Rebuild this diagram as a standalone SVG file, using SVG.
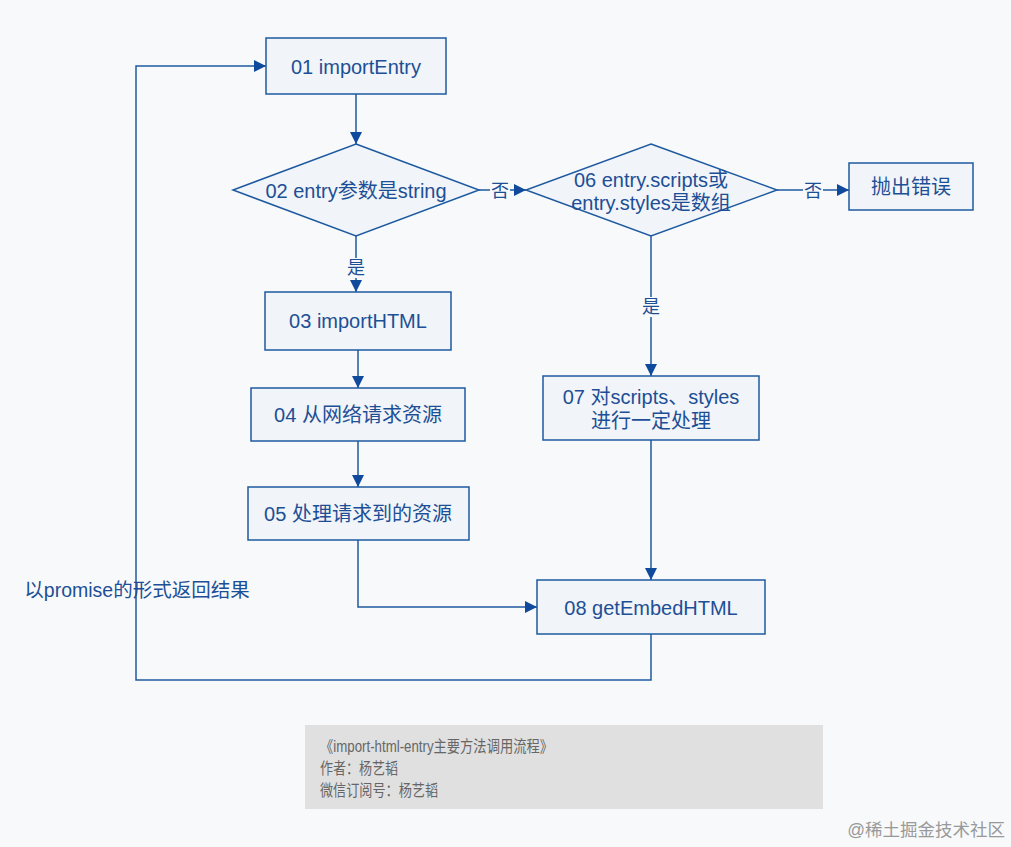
<svg xmlns="http://www.w3.org/2000/svg" width="1011" height="847" viewBox="0 0 1011 847">
<style>
.n{fill:#f1f4f8;stroke:#1e5aa0;stroke-width:1.5}
.t{font-family:"Liberation Sans","Noto Sans CJK SC",sans-serif;font-size:20px;fill:#1d4f96;text-anchor:middle;dominant-baseline:central}
.c{fill:none;stroke:#1e5aa0;stroke-width:1.5}
.l{font-family:"Liberation Sans","Noto Sans CJK SC",sans-serif;font-size:18px;fill:#1d4f96;text-anchor:middle;dominant-baseline:central}
.f{font-family:"Liberation Sans","Noto Sans CJK SC",sans-serif;font-size:16px;fill:#666}
</style>
<defs>
<marker id="a" viewBox="0 0 10 10" refX="10" refY="5" markerWidth="12" markerHeight="12" markerUnits="userSpaceOnUse" orient="auto">
<path d="M0,0 L10,5 L0,10 Z" fill="#0f4a9c"/>
</marker>
</defs>
<rect width="1011" height="847" fill="#f8f9fb"/>
<g id="connectors">
<path class="c" d="M356,94 V144" marker-end="url(#a)"/>
<path class="c" d="M356,236 V292" marker-end="url(#a)"/>
<path class="c" d="M358,350 V388" marker-end="url(#a)"/>
<path class="c" d="M358,441 V487" marker-end="url(#a)"/>
<path class="c" d="M358,540 V607 H537" marker-end="url(#a)"/>
<path class="c" d="M479,190 H526" marker-end="url(#a)"/>
<path class="c" d="M777,190 H849" marker-end="url(#a)"/>
<path class="c" d="M651,236 V376" marker-end="url(#a)"/>
<path class="c" d="M651,440 V580" marker-end="url(#a)"/>
<path class="c" d="M651,634 V680 H136 V66 H266" marker-end="url(#a)"/>
<rect x="346" y="258" width="20" height="20" fill="#f8f9fb"/>
<text class="l" x="356" y="268">是</text>
<rect x="490" y="181" width="20" height="20" fill="#f8f9fb"/>
<text class="l" x="500" y="191">否</text>
<rect x="803" y="181" width="20" height="20" fill="#f8f9fb"/>
<text class="l" x="813" y="191">否</text>
<rect x="641" y="297" width="20" height="20" fill="#f8f9fb"/>
<text class="l" x="651" y="307">是</text>
<text class="l" x="137" y="590" style="font-size:19.5px">以promise的形式返回结果</text>
</g>
<g id="n01"><rect class="n" x="266" y="38" width="180" height="56"/><text class="t" x="356" y="67">01 importEntry</text></g>
<g id="n02"><polygon class="n" points="356,144 479,190 356,236 233,190"/><text class="t" x="356" y="191">02 entry参数是string</text></g>
<g id="n03"><rect class="n" x="265" y="292" width="186" height="58"/><text class="t" x="358" y="321">03 importHTML</text></g>
<g id="n04"><rect class="n" x="251" y="388" width="214" height="53"/><text class="t" x="358" y="415">04 从网络请求资源</text></g>
<g id="n05"><rect class="n" x="248" y="487" width="221" height="53"/><text class="t" x="358" y="514">05 处理请求到的资源</text></g>
<g id="n06"><polygon class="n" points="651,144 777,190 651,236 526,190"/><text class="t" x="651" y="180">06 entry.scripts或</text><text class="t" x="651" y="203">entry.styles是数组</text></g>
<g id="nerr"><rect class="n" x="849" y="163" width="124" height="47"/><text class="t" x="911" y="187">抛出错误</text></g>
<g id="n07"><rect class="n" x="543" y="376" width="216" height="64"/><text class="t" x="651" y="397">07 对scripts、styles</text><text class="t" x="651" y="421">进行一定处理</text></g>
<g id="n08"><rect class="n" x="537" y="580" width="228" height="54"/><text class="t" x="651" y="608">08 getEmbedHTML</text></g>
<g id="footer">
<rect x="305" y="725" width="518" height="84" fill="#e0e0e0"/>
<text class="f" x="320" y="752" textLength="233" lengthAdjust="spacingAndGlyphs">《import-html-entry主要方法调用流程》</text>
<text class="f" x="320" y="774" textLength="78" lengthAdjust="spacingAndGlyphs">作者：杨艺韬</text>
<text class="f" x="320" y="796" textLength="118" lengthAdjust="spacingAndGlyphs">微信订阅号：杨艺韬</text>
</g>
<text x="1005" y="836" style="font-family:'Liberation Sans','Noto Sans CJK SC',sans-serif;font-size:17.5px;fill:#999;text-anchor:end">@稀土掘金技术社区</text>
</svg>
